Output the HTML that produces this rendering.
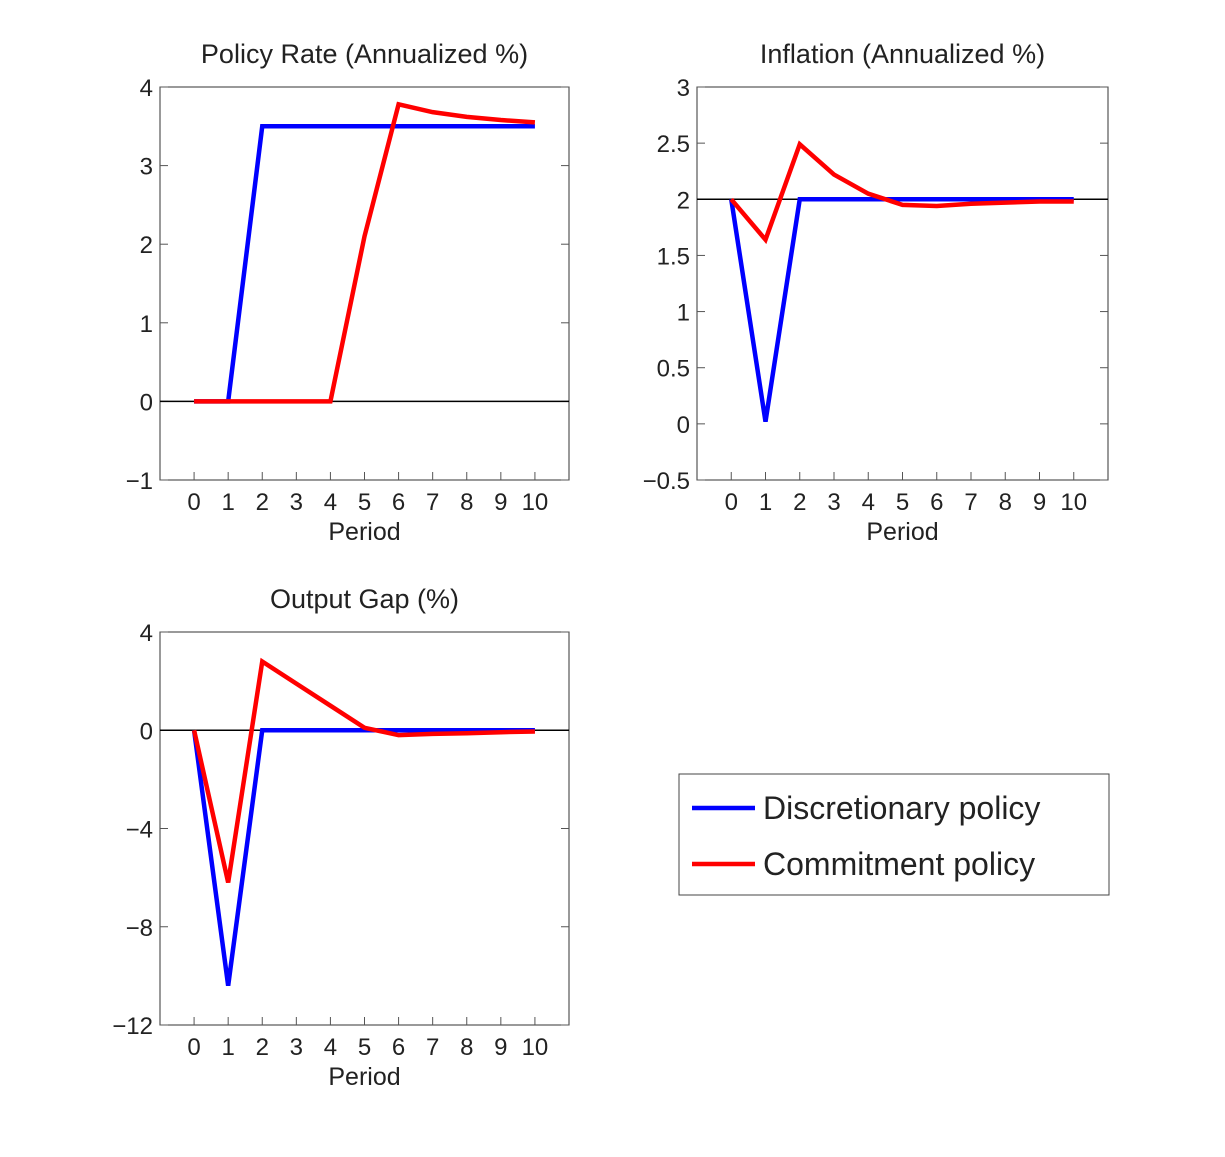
<!DOCTYPE html>
<html><head><meta charset="utf-8"><style>
body{margin:0;background:#fff;}
svg text{font-family:"Liberation Sans",sans-serif;fill:#222;}
</style></head><body>
<svg id="c" width="1225" height="1152"></svg>
<script>
const periods=[0,1,2,3,4,5,6,7,8,9,10];
const xTickLabels=["0","1","2","3","4","5","6","7","8","9","10"];
const rateDisc=[0,0,3.5,3.5,3.5,3.5,3.5,3.5,3.5,3.5,3.5];
const rateComm=[0,0,0,0,0,2.1,3.78,3.68,3.62,3.58,3.55];
const inflDisc=[2,0.02,2,2,2,2,2,2,2,2,2];
const inflComm=[2,1.64,2.49,2.22,2.05,1.95,1.94,1.96,1.97,1.98,1.98];
const gapDisc=[0,-10.4,0,0,0,0,0,0,0,0,0];
const gapComm=[0,-6.2,2.8,1.9,1.0,0.1,-0.2,-0.15,-0.12,-0.08,-0.05];
const rateTicks=[-1,0,1,2,3,4];
const rateTickLabels=["\u22121","0","1","2","3","4"];
const inflTicks=[-0.5,0,0.5,1,1.5,2,2.5,3];
const inflTickLabels=["\u22120.5","0","0.5","1","1.5","2","2.5","3"];
const gapTicks=[-12,-8,-4,0,4];
const gapTickLabels=["\u221212","\u22128","\u22124","0","4"];

const svg=document.getElementById('c');
const NS='http://www.w3.org/2000/svg';
function mk(tag,attrs,parent){const e=document.createElementNS(NS,tag);for(const k in attrs)e.setAttribute(k,attrs[k]);(parent||svg).appendChild(e);return e;}

function panel(name,title,L,T,R,B,ymin,ymax,ticks,tlabels,d1,d2){
  const g=mk('g',{});
  
  
  const xs=v=>L+(v+1)/12*(R-L);
  const ys=v=>B-(v-ymin)/(ymax-ymin)*(B-T);
  const box=mk('rect',{x:L,y:T,width:R-L,height:B-T,fill:'none',stroke:'#333','stroke-width':1},g);
  
  
  const t=mk('text',{x:(L+R)/2,y:T-24,'text-anchor':'middle','font-size':27},g);
  t.textContent=title;
  
  
  ticks.forEach((v,i)=>{
    const y=ys(v);
    mk('line',{x1:L,x2:L+8,y1:y,y2:y,stroke:'#555'},g);
    mk('line',{x1:R,x2:R-8,y1:y,y2:y,stroke:'#555'},g);
    const lb=mk('text',{x:L-7,y:y+9,'text-anchor':'end','font-size':24},g);
    lb.textContent=tlabels[i];
    
    
  });
  periods.forEach((p,i)=>{
    const x=xs(p);
    mk('line',{x1:x,x2:x,y1:B,y2:B-8,stroke:'#555'},g);
    const lb=mk('text',{x:x,y:B+30,'text-anchor':'middle','font-size':24},g);
    lb.textContent=xTickLabels[i];
    
    
  });
  const xl=mk('text',{x:(L+R)/2,y:B+60,'text-anchor':'middle','font-size':25},g);
  xl.textContent='Period';
  
  
  const ref=(name==='inflation-panel')?2:0;
  const zl=mk('line',{x1:L,x2:R,y1:ys(ref),y2:ys(ref),stroke:'#000','stroke-width':1.5},g);
  
  
  [[d1,'#0000ff','discretionary-line'],[d2,'#ff0000','commitment-line']].forEach(([d,c,n])=>{
    const pts=d.map((v,i)=>xs(periods[i])+','+ys(v)).join(' ');
    const pl=mk('polyline',{points:pts,fill:'none',stroke:c,'stroke-width':4.5,'stroke-linejoin':'miter'},g);
    
    
  });
}
panel('policy-rate-panel','Policy Rate (Annualized %)',160,87,569,480,-1,4,rateTicks,rateTickLabels,rateDisc,rateComm);
panel('inflation-panel','Inflation (Annualized %)',697,87,1108,480,-0.5,3,inflTicks,inflTickLabels,inflDisc,inflComm);
panel('output-gap-panel','Output Gap (%)',160,632,569,1025,-12,4,gapTicks,gapTickLabels,gapDisc,gapComm);

const lg=mk('g',{});


mk('rect',{x:679,y:774,width:430,height:121,fill:'#fff',stroke:'#444'},lg);
[['Discretionary policy','#0000ff',808],['Commitment policy','#ff0000',864]].forEach(([l,c,y])=>{
  const e=mk('g',{},lg);
  
  
  mk('line',{x1:692,x2:755,y1:y,y2:y,stroke:c,'stroke-width':4.5},e);
  const t=mk('text',{x:763,y:y+11,'font-size':32},e);
  t.textContent=l;
});
</script>
</body></html>
